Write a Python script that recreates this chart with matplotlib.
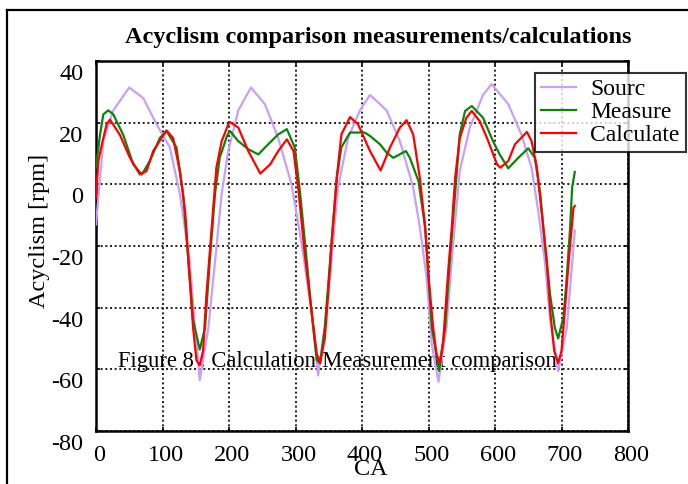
import matplotlib
matplotlib.use('Agg')
import matplotlib.pyplot as plt
from matplotlib.lines import Line2D
from matplotlib.transforms import ScaledTranslation

plt.rcParams['font.family'] = ['Liberation Serif', 'DejaVu Serif']
plt.rcParams['axes.unicode_minus'] = False

# crank angle / acyclism values
src_ca = [0, 11, 26, 50, 71, 91, 111, 126, 141, 149, 156, 169, 179, 189, 199, 214, 233,
          254, 274, 294, 309, 324, 334, 344, 354, 364, 379, 397, 412, 437, 457, 477, 487,
          497, 505, 515, 527, 537, 547, 562, 582, 595, 620, 640, 655, 665, 675, 683, 695,
          708, 720]
src_rpm = [-13, 14, 24, 31.4, 28, 19.5, 12, -3, -25, -46.5, -63.5, -46.5, -25, -3, 11, 24,
           31.4, 26, 15, 0, -19, -41, -62, -46.5, -25, -1, 15, 24, 29, 24, 14, -1, -14,
           -30, -52, -64, -46.5, -19.5, 4.3, 18.4, 29, 32.5, 26, 16, 5.4, -8.7, -25, -44,
           -60.6, -46.5, -15]

meas_ca = [0, 6, 11, 18.5, 26, 41, 56, 69, 81, 96, 106, 121, 131, 139, 146, 156, 164, 171,
           179, 186, 197, 201.5, 214, 229, 244, 259, 274, 287, 299, 307, 317, 324, 332, 337,
           344, 352, 362, 369, 382, 404, 412, 427, 437, 447, 466, 472, 485, 495, 500, 505,
           516, 525, 532, 540, 547, 555, 565, 582, 597, 607, 620, 635, 650, 660, 668, 675,
           683, 690, 695, 703, 708, 713, 716, 720]
meas_rpm = [5.5, 16, 22.7, 24, 22.7, 16, 6.5, 3.2, 7.6, 15, 17.3, 12, -3, -25, -44, -53.6,
            -46.5, -25, -3, 8.6, 15.7, 17.3, 14, 11.4, 9.7, 13, 16.2, 17.9, 11.9, -3, -25,
            -41, -57, -58, -46.5, -25, 2, 12, 16.8, 16.8, 15.7, 13, 10.3, 8.6, 10.8, 8.6, 1,
            -14, -30, -46.5, -60.5, -46.5, -25, -3, 16.2, 23.8, 25.4, 21.6, 14, 9.7, 5.2,
            8.6, 11.7, 8.6, -3, -19.5, -36, -46.5, -50, -43, -30, -14, -1, 4]

calc_ca = [0, 3.5, 11, 16, 21, 36, 51, 66, 76, 86, 106, 116, 126, 134, 139, 146, 151, 156,
           161, 166, 174, 181, 189, 199, 201.5, 214, 229, 247, 262, 274, 287, 297, 304, 314,
           324, 332, 337, 344, 349, 354, 362, 369, 382, 394, 412, 428, 442, 457, 467, 477,
           487, 495, 500, 507, 512, 517, 522, 530, 535, 540, 547, 557, 565, 577, 588, 603,
           608, 620, 630, 648, 655, 663, 670, 678, 683, 689, 695, 700, 705, 710, 718, 720]
calc_rpm = [-4.3, 7.6, 15, 19.5, 21, 16, 8.6, 3.2, 4.3, 10.8, 17.5, 15, 4.3, -8.7, -25,
            -46.5, -57, -58.7, -54, -36, -14, 5.4, 14, 19.5, 20.2, 18.4, 10.8, 3.5, 6.5, 10.8,
            14.6, 10.8, -1, -22.7, -41, -55, -58, -50, -36, -19.5, 2, 16.2, 21.8, 19.5, 10.8,
            4.5, 11.9, 18.4, 20.8, 16.2, 2, -14, -30, -46.5, -55, -58, -51, -27, -14, 2, 15,
            21.6, 23.8, 20.5, 15, 6.5, 5.4, 7.6, 13, 17, 14, 5.4, -8.7, -25, -41, -54, -58,
            -54, -41, -27, -7.6, -7]

labels = ['Sourc', 'Measure', 'Calculate']
x_ticks = [0, 100, 200, 300, 400, 500, 600, 700, 800]
y_ticks = [-80, -60, -40, -20, 0, 20, 40]

fig = plt.figure(figsize=(6.88, 4.84), dpi=100)
ax = fig.add_axes([96 / 688, 1 - 431 / 484, 532 / 688, 370 / 484])

# outer frame of the original figure (only left and top visible)
fig.add_artist(Line2D([7 / 688, 7 / 688], [-0.05, 1 - 10 / 484], transform=fig.transFigure,
                      color='black', lw=1.6))
fig.add_artist(Line2D([7 / 688, 1.05], [1 - 10 / 484, 1 - 10 / 484], transform=fig.transFigure,
                      color='black', lw=1.6))

ax.plot(src_ca, src_rpm, color='#c9a0f7', lw=1.6, label=labels[0], zorder=3)
ax.plot(meas_ca, meas_rpm, color='#0a840a', lw=1.6, label=labels[1], zorder=4)
ax.plot(calc_ca, calc_rpm, color='#ff0000', lw=1.6, label=labels[2], zorder=5)

ax.set_xlim(0, 800)
ax.set_ylim(-80, 40)
ax.set_xticks(x_ticks)
ax.set_yticks(y_ticks)
ax.grid(True, color='black', linestyle=(0, (1.2, 1.6)), lw=1.2)
ax.tick_params(direction='in', length=3, width=1.2, top=True, right=True, labelsize=17.5)
ax.tick_params(axis='x', pad=10)
ax.tick_params(axis='y', pad=9)
for s in ax.spines.values():
    s.set_linewidth(1.8)

# y labels sit a bit below their ticks in the original
for lab in ax.get_yticklabels():
    lab.set_transform(lab.get_transform() + ScaledTranslation(0, -11 / 100, fig.dpi_scale_trans))
for lab in ax.get_xticklabels():
    lab.set_transform(lab.get_transform() + ScaledTranslation(3 / 100, 0, fig.dpi_scale_trans))

ax.set_xlabel('CA', fontsize=17.5)
ax.xaxis.set_label_coords((371 - 96) / 532, (431 - 459) / 370)
ax.set_ylabel('Acyclism [rpm]', fontsize=17.5)
ax.yaxis.set_label_coords((50 - 96) / 532, (431 - 231) / 370)
fig.text(378 / 688, 1 - 37 / 484, 'Acyclism comparison measurements/calculations',
         ha='center', va='center', fontsize=17.5, fontweight='bold')

ax.text(33, -57.5, 'Figure 8 : Calculation/Measurement comparison', fontsize=16.3,
        va='center', ha='left', zorder=2)

leg = ax.legend(loc='upper left', bbox_to_anchor=(535 / 688, 1 - 73 / 484),
                bbox_transform=fig.transFigure, fontsize=17, frameon=True, fancybox=False,
                borderaxespad=0, labelspacing=0.05, handlelength=1.5, borderpad=0.25,
                handletextpad=0.6)
leg.get_frame().set_edgecolor('black')
leg.get_frame().set_linewidth(1.5)
leg.set_zorder(10)

fig.savefig('out.png', dpi=100)
